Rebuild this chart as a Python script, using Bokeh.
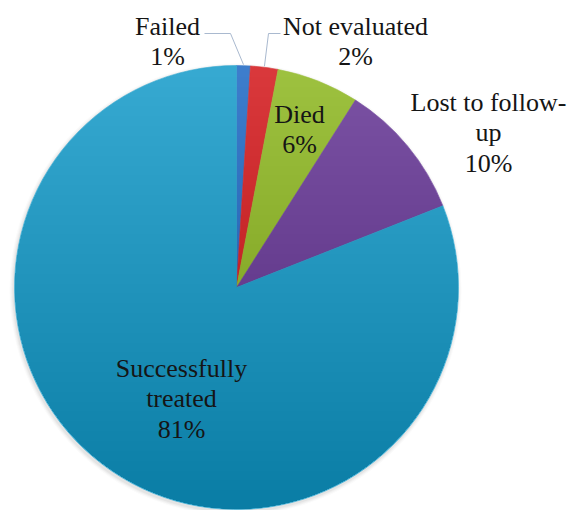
import numpy as np
from bokeh.plotting import figure
from bokeh.models import Range1d, ColumnDataSource
from bokeh.core.properties import value
from bokeh.embed import file_html
from bokeh.resources import INLINE

# Treatment outcomes (percent of cohort), clockwise from 12 o'clock
categories = ["Failed", "Not evaluated", "Died", "Lost to follow-up", "Successfully treated"]
percents = [1, 2, 6, 10, 81]
label_lines = [["Failed", "1%"], ["Not evaluated", "2%"], ["Died", "6%"],
               ["Lost to follow-", "up", "10%"], ["Successfully", "treated", "81%"]]
colors = ["#3d7dcc", "#d9383b", "#9dc13f", "#7b52a4", "#36a9d1"]

W, H = 572, 510
CX, CY, R = 236, H - 287, 222
LINE_H = 30.5

p = figure(width=W, height=H, output_backend="svg", toolbar_location=None,
           x_range=Range1d(0, W), y_range=Range1d(0, H), min_border=0)
p.axis.visible = False
p.grid.visible = False
p.outline_line_color = None
p.background_fill_color = "white"
p.border_fill_color = "white"

# soft drop shadow behind the pie
for k, a in enumerate([0.05, 0.04, 0.03, 0.02]):
    p.circle(x=CX - 1, y=CY - 2, radius=R + 1 + k, fill_color="#404040",
             fill_alpha=a, line_color=None)

frac = np.array(percents, dtype=float) / sum(percents)
cum = np.concatenate([[0], np.cumsum(frac)])
start = np.pi / 2 - 2 * np.pi * cum[:-1]
end = np.pi / 2 - 2 * np.pi * cum[1:]
src = ColumnDataSource(dict(cat=categories, start=start, end=end, color=colors))
p.wedge(x=CX, y=CY, radius=R, start_angle="start", end_angle="end", direction="clock",
        fill_color="color", line_color="color", line_width=0.6, source=src)

# vertical shading: stacked translucent circle segments, darker toward the bottom
steps = 44
for y0 in np.linspace(CY + R * 0.95, CY - R, steps, endpoint=False):
    phi = np.arcsin(np.clip((y0 - CY) / R, -1, 1))
    th = np.linspace(np.pi - phi, 2 * np.pi + phi, 120)
    p.patch(CX + R * np.cos(th), CY + R * np.sin(th), fill_color="black",
            fill_alpha=0.0021, line_color=None)

# leader lines for the two thin slices
mid = np.pi / 2 - 2 * np.pi * (cum[:-1] + cum[1:]) / 2
ex = CX + (R + 1) * np.cos(mid)
ey = CY + (R + 1) * np.sin(mid)
p.line(x=[204, 230, ex[0]], y=[H - 33, H - 33, ey[0]], line_color="#a9b9cf", line_width=1)
p.line(x=[280, 268, ex[1]], y=[H - 33, H - 33, ey[1]], line_color="#a9b9cf", line_width=1)

# data labels, one text row per line
block_x = [167, 355, 299, 488, 181]
block_y = [41, 41, 129, 132, 398]
tx, ty, tt = [], [], []
for bx, by, lines in zip(block_x, block_y, label_lines):
    n = len(lines)
    for i, s in enumerate(lines):
        tx.append(bx)
        ty.append(H - (by + (i - (n - 1) / 2) * LINE_H))
        tt.append(s)
lsrc = ColumnDataSource(dict(x=tx, y=ty, t=tt))
p.text(x="x", y="y", text="t", source=lsrc, text_font=value("Liberation Serif"),
       text_font_size="26px", text_color="#151515", text_align="center",
       text_baseline="middle")

open("out.html", "w").write(file_html(p, INLINE))
